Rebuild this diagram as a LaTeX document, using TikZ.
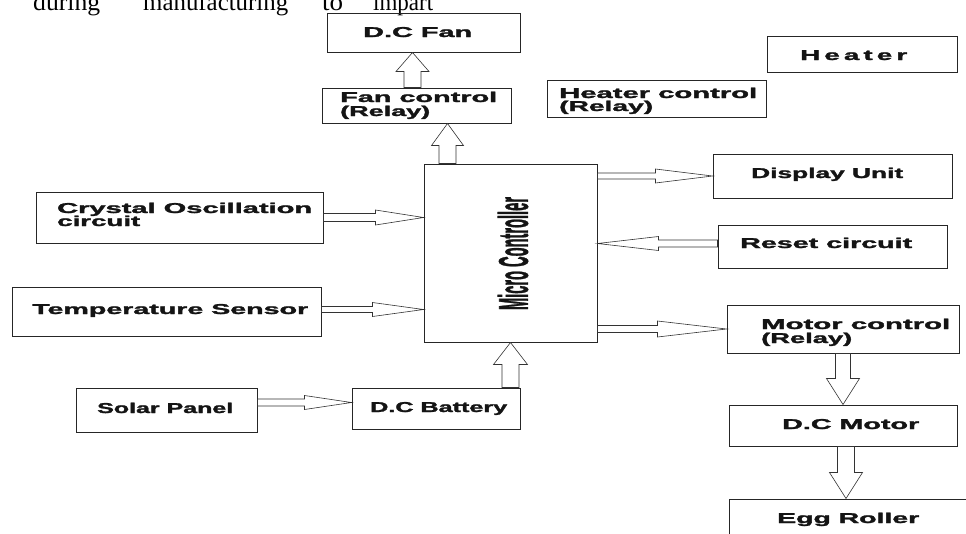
\documentclass[tikz,border=0pt]{standalone}
\usepackage{fontspec}
\usepackage{graphicx}
\setmainfont{Liberation Sans}
\newfontfamily\boxfont{Liberation Sans}[BoldFeatures={FakeBold=1.6}]
\newfontfamily\pageserif{Liberation Serif}
\usetikzlibrary{calc}
\newcommand{\fitw}[2]{\resizebox{#1pt}{\height}{#2}}
% horizontal block arrow: start, end, shaft half width, head half width, head length
\newcommand{\harr}[5]{\draw[blk] let \p1=(#1), \p2=(#2), \n1={sign(\x2-\x1)} in
  (\x1,{\y1+#3pt}) -- ({\x2-(\n1)*#5pt},{\y1+#3pt}) -- ({\x2-(\n1)*#5pt},{\y1+#4pt})
  -- (\x2,\y1) -- ({\x2-(\n1)*#5pt},{\y1-#4pt}) -- ({\x2-(\n1)*#5pt},{\y1-#3pt})
  -- (\x1,{\y1-#3pt}) -- cycle;}
% vertical block arrow
\newcommand{\varr}[5]{\draw[blk] let \p1=(#1), \p2=(#2), \n1={sign(\y2-\y1)} in
  ({\x1+#3pt},\y1) -- ({\x1+#3pt},{\y2-(\n1)*#5pt}) -- ({\x1+#4pt},{\y2-(\n1)*#5pt})
  -- (\x1,\y2) -- ({\x1-#4pt},{\y2-(\n1)*#5pt}) -- ({\x1-#3pt},{\y2-(\n1)*#5pt})
  -- ({\x1-#3pt},\y1) -- cycle;}
\begin{document}
\begin{tikzpicture}[x=1pt,y=-1pt,
  box/.style={draw=black!85, line width=1pt, inner sep=0pt, rectangle},
  lbl/.style={anchor=base west, inner sep=0pt, font=\boxfont\fontsize{14.3}{14.3}\selectfont\bfseries, text=black!92},
  toptext/.style={anchor=base west, inner sep=0pt, font=\pageserif\fontsize{25}{25}\selectfont, text=black},
  blk/.style={draw=black!80, line width=0.6pt, fill=white}]
\clip (0,0) rectangle (966,533);
\fill[white] (0,0) rectangle (966,533);

% clipped line of page text at the top
\node[toptext] (w1) at (33,10) {\fitw{67}{during}};
\node[toptext] (w2) at (143,10) {\fitw{145}{manufacturing}};
\node[toptext] (w3) at (322,10) {\fitw{21}{to}};
\node[toptext] (w4) at (373,10) {\fitw{60}{impart}};

% boxes
\node[box, minimum width=193pt, minimum height=39pt] (dcfan)  at (423.5,32.5) {};
\node[box, minimum width=189pt, minimum height=35pt] (fanctl) at (416.5,105.5) {};
\node[box, minimum width=219pt, minimum height=37pt] (heatctl) at (656.5,98.5) {};
\node[box, minimum width=190pt, minimum height=36pt] (heater) at (862,54) {};
\node[box, minimum width=173pt, minimum height=178pt] (mc)    at (510.5,253) {};
\node[box, minimum width=287pt, minimum height=51pt] (crystal) at (179.5,217.5) {};
\node[box, minimum width=309pt, minimum height=49pt] (temp)   at (166.5,311.5) {};
\node[box, minimum width=239pt, minimum height=44pt] (disp)   at (832.5,176) {};
\node[box, minimum width=229pt, minimum height=43pt] (reset)  at (832.5,246.5) {};
\node[box, minimum width=232pt, minimum height=48pt] (mctl)   at (843,329) {};
\node[box, minimum width=181pt, minimum height=44pt] (solar)  at (166.5,410) {};
\node[box, minimum width=168pt, minimum height=41pt] (batt)   at (436,408.5) {};
\node[box, minimum width=228pt, minimum height=41pt] (dcmotor) at (843,425.5) {};
\node[box, minimum width=243pt, minimum height=46pt] (egg)    at (850.5,522) {};

% labels
\node[lbl] (t-dcfan) at (363,37) {\fitw{109}{D.C Fan}};
\node[lbl] (t-fan1) at (340,102) {\fitw{157}{Fan control}};
\node[lbl] (t-fan2) at (340,116) {\fitw{90}{(Relay)}};
\node[lbl] (t-heat1) at (559,98) {\fitw{198}{Heater control}};
\node[lbl] (t-heat2) at (559,111) {\fitw{94}{(Relay)}};
\node[lbl] (t-heater) at (800,60) {\fitw{107}{\addfontfeature{LetterSpace=15}Heater}};
\node[lbl] (t-cry1) at (57,213) {\fitw{255}{Crystal Oscillation}};
\node[lbl] (t-cry2) at (57,226) {\fitw{83}{circuit}};
\node[lbl] (t-temp) at (32,314) {\fitw{276}{Temperature Sensor}};
\node[lbl] (t-disp) at (751,178) {\fitw{152}{Display Unit}};
\node[lbl] (t-reset) at (740,248) {\fitw{172}{Reset circuit}};
\node[lbl] (t-mot1) at (761,329) {\fitw{189}{Motor control}};
\node[lbl] (t-mot2) at (761,343) {\fitw{91}{(Relay)}};
\node[lbl] (t-solar) at (97,413) {\fitw{136}{Solar Panel}};
\node[lbl] (t-batt) at (370,412) {\fitw{137}{D.C Battery}};
\node[lbl] (t-dcm) at (782,429) {\fitw{137}{D.C Motor}};
\node[lbl] (t-egg) at (777,523) {\fitw{142}{Egg Roller}};
\node[rotate=90, inner sep=0pt, font=\boxfont\fontsize{14}{14}\selectfont\bfseries, text=black!92] (t-mc) at (513,253.5) {\resizebox{113pt}{30pt}{Micro Controller}};

% arrow anchor points
\coordinate (tA) at ([yshift=2pt]temp.east);
\coordinate (rA) at ([yshift=3pt]reset.west);
\coordinate (sA) at ([yshift=7.5pt]solar.east);
\coordinate (fA) at ([xshift=-4pt]fanctl.north);
\coordinate (mA) at ([xshift=-63pt]mc.north);
\coordinate (eA) at ([xshift=3pt]dcmotor.south);

% block arrows
\harr{crystal.east}{mc.west |- crystal.east}{4}{7.5}{48}
\harr{tA}{mc.west |- tA}{3}{7}{51}
\harr{mc.east |- disp.west}{disp.west}{3}{7}{57}
\harr{rA}{mc.east |- rA}{3.5}{7}{61}
\harr{mc.east |- mctl.west}{mctl.west}{3.5}{8}{69}
\harr{sA}{batt.west |- sA}{3.5}{7}{47}
\varr{fA}{fA |- dcfan.south}{8.5}{16.5}{19}
\varr{mA}{mA |- fanctl.south}{8.5}{16}{22}
\varr{mc.south |- batt.north}{mc.south}{8.5}{17}{22}
\varr{dcmotor.north |- mctl.south}{dcmotor.north}{7.5}{16.5}{26}
\varr{eA}{eA |- egg.north}{8.5}{16.5}{26}
\end{tikzpicture}
\end{document}
